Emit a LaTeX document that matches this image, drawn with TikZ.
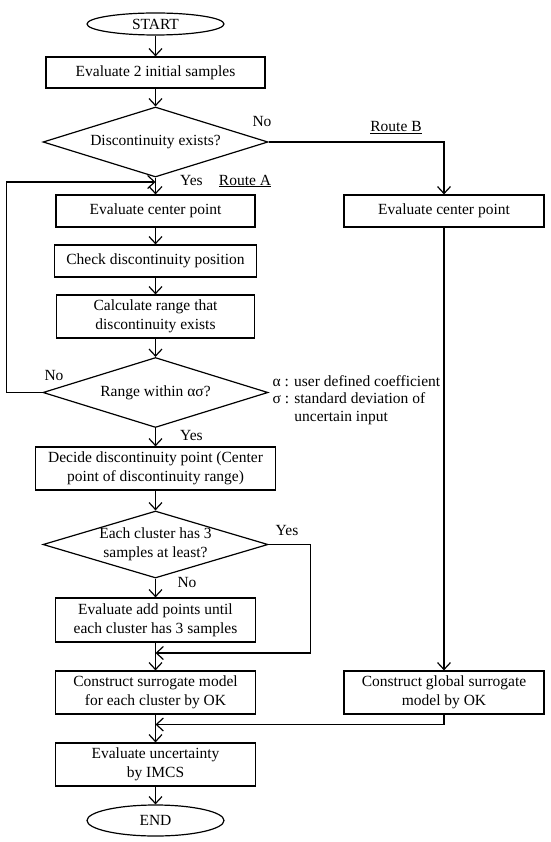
\documentclass[tikz,border=0pt]{standalone}
\usepackage{fontspec}
\setmainfont{Liberation Serif}
\usetikzlibrary{arrows.meta,shapes.geometric}
\begin{document}
\begin{tikzpicture}[x=1pt,y=-1pt,
  every node/.style={font=\fontsize{15.5}{19}\selectfont},
  box/.style={draw,line width=1.2pt,rectangle,inner sep=0pt,align=center},
  term/.style={draw,line width=1.2pt,ellipse,inner sep=0pt,minimum width=137pt,minimum height=22pt},
  dia/.style={draw,line width=1.2pt,diamond,inner sep=0pt,minimum width=225pt,minimum height=70pt},
  arr/.style={line width=1.2pt,-{Straight Barb[length=7pt,width=13pt]}},
  lbl/.style={inner sep=0pt}]
\useasboundingbox (0,0) rectangle (550,842);
\node[term] (start) at (155.5,24) {START};
\node[box,minimum width=219pt,minimum height=31pt] (b1) at (155.5,72.5) {Evaluate 2 initial samples};
\node[dia] (d1) at (155.5,142) {};
\node[lbl] at (d1) {Discontinuity exists?};
\node[box,minimum width=199pt,minimum height=32pt] (bA) at (155.5,211) {Evaluate center point};
\node[box,minimum width=200pt,minimum height=32pt] (bB) at (444,211) {Evaluate center point};
\node[box,minimum width=202pt,minimum height=32pt] (chk) at (155.5,261) {Check discontinuity position};
\node[box,minimum width=198pt,minimum height=43pt] (calc) at (155.5,316.5) {Calculate range that\\discontinuity exists};
\node[dia] (d2) at (155.5,392.5) {};
\node[lbl] at (d2) {Range within ασ?};
\node[box,minimum width=240pt,minimum height=43pt] (dec) at (155.5,468.5) {Decide discontinuity point (Center\\point of discontinuity range)};
\node[dia,minimum height=67pt] (d3) at (155.5,544.5) {};
\node[lbl,align=center] at (d3) {Each cluster has 3\\samples at least?};
\node[box,minimum width=200pt,minimum height=44pt] (add) at (155.5,620) {Evaluate add points until\\each cluster has 3 samples};
\node[box,minimum width=200pt,minimum height=43pt] (cons) at (155.5,692.5) {Construct surrogate model\\for each cluster by OK};
\node[box,minimum width=200pt,minimum height=43pt] (glob) at (444,692.5) {Construct global surrogate\\model by OK};
\node[box,minimum width=200pt,minimum height=43pt] (unc) at (155.5,764.5) {Evaluate uncertainty\\by IMCS};
\node[term,minimum height=31pt] (end) at (155.5,820.5) {END};
% labels
\node[lbl] at (262,122) {No};
\node[lbl] at (396,128) {\underline{Route B}};
\node[lbl] at (191.5,181) {Yes};
\node[lbl] at (245,181) {\underline{Route A}};
\node[lbl] at (54,375) {No};
\node[lbl] at (191.5,435) {Yes};
\node[lbl] at (287,530) {Yes};
\node[lbl] at (187,582) {No};
\node[lbl,anchor=west,align=left,font=\fontsize{15.5}{17.5}\selectfont] (note) at (272.5,400) {α : user defined coefficient\\σ : standard deviation of\\\phantom{σ : }uncertain input};
% junction coordinates
\coordinate (j1) at (155.5,182);
\coordinate (j2) at (155.5,653);
\coordinate (j3) at (155.5,724.5);
% connectors
\draw[arr] (start) -- (b1);
\draw[arr] (b1) -- (d1);
\draw[arr] (d1.east) -| (bB.north);
\draw[arr] (d1.south) -- (bA.north);
\draw[arr] (bA) -- (chk);
\draw[arr] (chk) -- (calc);
\draw[arr] (calc) -- (d2);
\draw[arr] (d2.west) -- ++(-36,0) |- (j1);
\draw[arr] (d2.south) -- (dec.north);
\draw[arr] (dec) -- (d3);
\draw[arr] (d3.south) -- (add.north);
\draw[arr] (d3.east) -- ++(42,0) |- (j2);
\draw[arr] (add) -- (cons);
\draw[arr] (bB) -- (glob);
\draw[arr] (glob.south) |- (j3);
\draw[arr] (cons) -- (unc);
\draw[arr] (unc) -- (end);
\end{tikzpicture}
\end{document}
